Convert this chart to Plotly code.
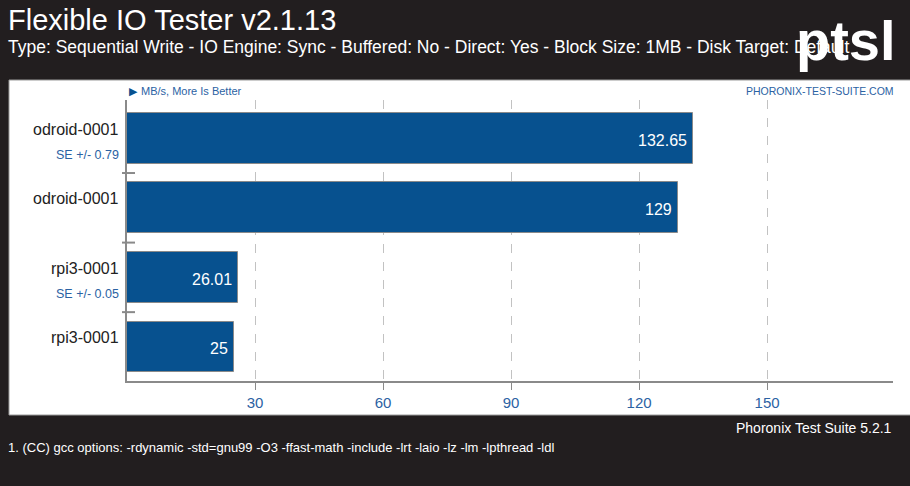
import plotly.graph_objects as go

# ---- data ----
labels = ["odroid-0001", "odroid-0001", "rpi3-0001", "rpi3-0001"]
values = [132.65, 129, 26.01, 25]
value_text = ["132.65", "129", "26.01", "25"]
se_text = ["SE +/- 0.79", "", "SE +/- 0.05", ""]
tick_vals = [30, 60, 90, 120, 150]
tick_text = ["30", "60", "90", "120", "150"]

title = "Flexible IO Tester v2.1.13"
subtitle = ("Type: Sequential Write - IO Engine: Sync - Buffered: No - Direct: Yes - "
            "Block Size: 1MB - Disk Target: Default")
unit_note = "MB/s, More Is Better"
site = "PHORONIX-TEST-SUITE.COM"
footer_right = "Phoronix Test Suite 5.2.1"
footer_note = ("1. (CC) gcc options: -rdynamic -std=gnu99 -O3 -ffast-math -include "
               "-lrt -laio -lz -lm -lpthread -ldl")

# ---- style ----
DARK = "#221e1f"
BAR = "#07518f"
BLUE_TXT = "#2b62a3"
FONT = "Liberation Sans, Arial, sans-serif"

W, H = 910, 486
ML, MR, MT, MB = 127, 17, 100, 105
pw, ph = W - ML - MR, H - MT - MB

def px_x(p):  # pixel -> paper x
    return (p - ML) / pw

def px_y(p):  # pixel -> paper y
    return (H - MB - p) / ph

ypos = list(range(len(values)))

fig = go.Figure()
fig.add_trace(go.Bar(
    x=values, y=ypos, orientation="h", width=0.73,
    marker=dict(color=BAR, line=dict(color="#8a8a8a", width=1)),
    hoverinfo="skip",
))

annotations = []
# value labels inside the bars
for i, (v, t) in enumerate(zip(values, value_text)):
    annotations.append(dict(x=v, y=i, xref="x", yref="y", text=t, showarrow=False,
                            xanchor="right", xshift=-4, yshift=-2,
                            font=dict(family=FONT, size=16, color="white")))
# category labels
for i, (lab, se) in enumerate(zip(labels, se_text)):
    annotations.append(dict(x=0, y=i, xref="paper", yref="y", text=lab, showarrow=False,
                            xanchor="right", xshift=-6, yshift=9,
                            font=dict(family=FONT, size=16, color="#222222")))
    if se:
        annotations.append(dict(x=0, y=i, xref="paper", yref="y", text=se, showarrow=False,
                                xanchor="right", xshift=-6, yshift=-17,
                                font=dict(family=FONT, size=12.5, color=BLUE_TXT)))

# header / footer texts
annotations += [
    dict(x=px_x(6), y=px_y(20), xref="paper", yref="paper", text=title, showarrow=False,
         xanchor="left", yanchor="middle", font=dict(family=FONT, size=29, color="white")),
    dict(x=px_x(6), y=px_y(47), xref="paper", yref="paper", text=subtitle, showarrow=False,
         xanchor="left", yanchor="middle", font=dict(family=FONT, size=17.5, color="white")),
    dict(x=px_x(846), y=px_y(40), xref="paper", yref="paper", text="<b>ptsl</b>", showarrow=False,
         xanchor="center", yanchor="middle",
         font=dict(family="Liberation Sans, Arial", size=56, color="white")),
    dict(x=px_x(127), y=px_y(91), xref="paper", yref="paper", text="▶", showarrow=False,
         xanchor="left", yanchor="middle", font=dict(family="DejaVu Sans", size=11, color=BAR)),
    dict(x=px_x(139), y=px_y(91), xref="paper", yref="paper", text=unit_note, showarrow=False,
         xanchor="left", yanchor="middle", font=dict(family=FONT, size=11, color=BLUE_TXT)),
    dict(x=px_x(896), y=px_y(91), xref="paper", yref="paper", text=site, showarrow=False,
         xanchor="right", yanchor="middle", font=dict(family=FONT, size=10.5, color=BLUE_TXT)),
    dict(x=px_x(894), y=px_y(428), xref="paper", yref="paper", text=footer_right, showarrow=False,
         xanchor="right", yanchor="middle", font=dict(family=FONT, size=14, color="white")),
    dict(x=px_x(6), y=px_y(447), xref="paper", yref="paper", text=footer_note, showarrow=False,
         xanchor="left", yanchor="middle", font=dict(family=FONT, size=13, color="white")),
]

shapes = [
    # white panel
    dict(type="rect", xref="paper", yref="paper", x0=px_x(9), x1=px_x(912),
         y0=px_y(415), y1=px_y(80), fillcolor="white",
         line=dict(color="#9a9a9a", width=1), layer="below"),
]
# separator marks between bars
for i in range(len(values) - 1):
    shapes.append(dict(type="line", xref="paper", yref="y", x0=px_x(122), x1=px_x(135),
                       y0=i + 0.5, y1=i + 0.5, line=dict(color="#8a8a8a", width=2)))

fig.update_layout(
    width=W, height=H,
    margin=dict(l=ML, r=MR, t=MT, b=MB, pad=0),
    paper_bgcolor=DARK, plot_bgcolor="rgba(0,0,0,0)",
    showlegend=False,
    annotations=annotations, shapes=shapes,
    bargap=0,
    xaxis=dict(range=[0, 179.5], tickvals=tick_vals, ticktext=tick_text,
               showgrid=True, gridcolor="#c2c2c2", griddash="dash", gridwidth=1,
               zeroline=False, showline=True, linecolor="#8a8a8a", linewidth=1.5,
               ticks="outside", ticklen=7, tickcolor="#8a8a8a", tickwidth=1,
               tickfont=dict(family=FONT, size=15, color=BLUE_TXT), fixedrange=True),
    yaxis=dict(range=[3.49, -0.55], showticklabels=False, showgrid=False, zeroline=False,
               showline=True, linecolor="#8a8a8a", linewidth=1.5, ticks="", fixedrange=True),
)

fig.write_html("out.html", config={"displayModeBar": False},
               post_script="document.body.style.margin='0px';document.body.style.overflow='hidden';")
